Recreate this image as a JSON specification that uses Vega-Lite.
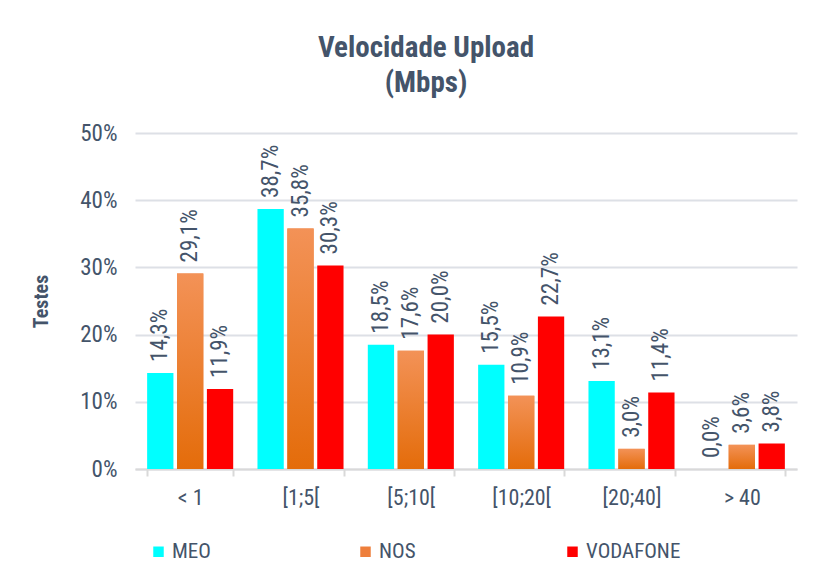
{
  "$schema": "https://vega.github.io/schema/vega-lite/v6.json",
  "width": 662,
  "height": 336,
  "autosize": {"type": "none"},
  "padding": {"left": 135, "top": 133, "right": 19, "bottom": 100},
  "background": "white",
  "config": {
    "locale": {"number": {"decimal": ",", "thousands": ".", "grouping": [3], "currency": ["", " €"]}},
    "font": "Liberation Sans Narrow, Roboto Condensed, Arial Narrow, Liberation Sans, sans-serif",
    "view": {"stroke": null}
  },
  "title": {
    "text": ["Velocidade Upload", "(Mbps)"],
    "fontSize": 29,
    "fontWeight": "bold",
    "color": "#44546a",
    "lineHeight": 35,
    "anchor": "middle",
    "dx": -40,
    "offset": 24
  },
  "data": {
    "values": [
      {"Intervalo": "< 1", "Operador": "MEO", "Valor": 0.143},
      {"Intervalo": "< 1", "Operador": "NOS", "Valor": 0.291},
      {"Intervalo": "< 1", "Operador": "VODAFONE", "Valor": 0.119},
      {"Intervalo": "[1;5[", "Operador": "MEO", "Valor": 0.387},
      {"Intervalo": "[1;5[", "Operador": "NOS", "Valor": 0.358},
      {"Intervalo": "[1;5[", "Operador": "VODAFONE", "Valor": 0.303},
      {"Intervalo": "[5;10[", "Operador": "MEO", "Valor": 0.185},
      {"Intervalo": "[5;10[", "Operador": "NOS", "Valor": 0.176},
      {"Intervalo": "[5;10[", "Operador": "VODAFONE", "Valor": 0.200},
      {"Intervalo": "[10;20[", "Operador": "MEO", "Valor": 0.155},
      {"Intervalo": "[10;20[", "Operador": "NOS", "Valor": 0.109},
      {"Intervalo": "[10;20[", "Operador": "VODAFONE", "Valor": 0.227},
      {"Intervalo": "[20;40]", "Operador": "MEO", "Valor": 0.131},
      {"Intervalo": "[20;40]", "Operador": "NOS", "Valor": 0.030},
      {"Intervalo": "[20;40]", "Operador": "VODAFONE", "Valor": 0.114},
      {"Intervalo": "> 40", "Operador": "MEO", "Valor": 0.000},
      {"Intervalo": "> 40", "Operador": "NOS", "Valor": 0.036},
      {"Intervalo": "> 40", "Operador": "VODAFONE", "Valor": 0.038}
    ]
  },
  "encoding": {
    "x": {
      "field": "Intervalo",
      "type": "nominal",
      "sort": null,
      "scale": {"paddingInner": 0.22, "paddingOuter": 0.11},
      "axis": {
        "title": null,
        "labelAngle": 0,
        "labelFontSize": 22,
        "labelColor": "#44546a",
        "labelPadding": 11,
        "domainColor": "#d9d9d9",
        "domainWidth": 2,
        "tickColor": "#d9d9d9",
        "tickWidth": 2,
        "tickSize": 7,
        "tickBand": "extent",
        "grid": false
      }
    },
    "xOffset": {"field": "Operador", "type": "nominal", "scale": {"paddingInner": 0.12}},
    "y": {
      "field": "Valor",
      "type": "quantitative",
      "scale": {"domain": [0, 0.5], "nice": false},
      "axis": {
        "title": "Testes",
        "titleFontSize": 20,
        "titleFontWeight": "bold",
        "titleColor": "#44546a",
        "titlePadding": 28,
        "format": ".0%",
        "values": [0, 0.1, 0.2, 0.3, 0.4, 0.5],
        "labelFontSize": 23,
        "labelColor": "#44546a",
        "labelPadding": 18,
        "ticks": false,
        "domain": false,
        "gridColor": "#dde0e6",
        "gridWidth": 2
      }
    }
  },
  "layer": [
    {
      "mark": {"type": "bar"},
      "encoding": {
        "color": {
          "field": "Operador",
          "type": "nominal",
          "scale": {"domain": ["MEO", "NOS", "VODAFONE"], "range": ["#00ffff", "#ee7f3c", "#ff0000"]},
          "legend": {
            "title": null,
            "orient": "none",
            "legendX": 13,
            "legendY": 408,
            "direction": "horizontal",
            "columns": 3,
            "gridAlign": "all",
            "columnPadding": 88,
            "symbolType": "square",
            "symbolSize": 110,
            "symbolStrokeWidth": 0,
            "labelFontSize": 21,
            "labelColor": "#44546a",
            "labelOffset": 3
          }
        }
      }
    },
    {
      "transform": [{"filter": "datum.Operador === 'NOS'"}],
      "mark": {
        "type": "bar",
        "color": {
          "gradient": "linear", "x1": 0, "y1": 0, "x2": 0, "y2": 1,
          "stops": [{"offset": 0, "color": "#f39257"}, {"offset": 1, "color": "#e46c0a"}]
        }
      }
    },
    {
      "mark": {"type": "text", "angle": -90, "align": "left", "baseline": "middle", "dx": 11, "fontSize": 23, "color": "#44546a"},
      "encoding": {
        "text": {"field": "Valor", "type": "quantitative", "format": ".1%"}
      }
    }
  ]
}
